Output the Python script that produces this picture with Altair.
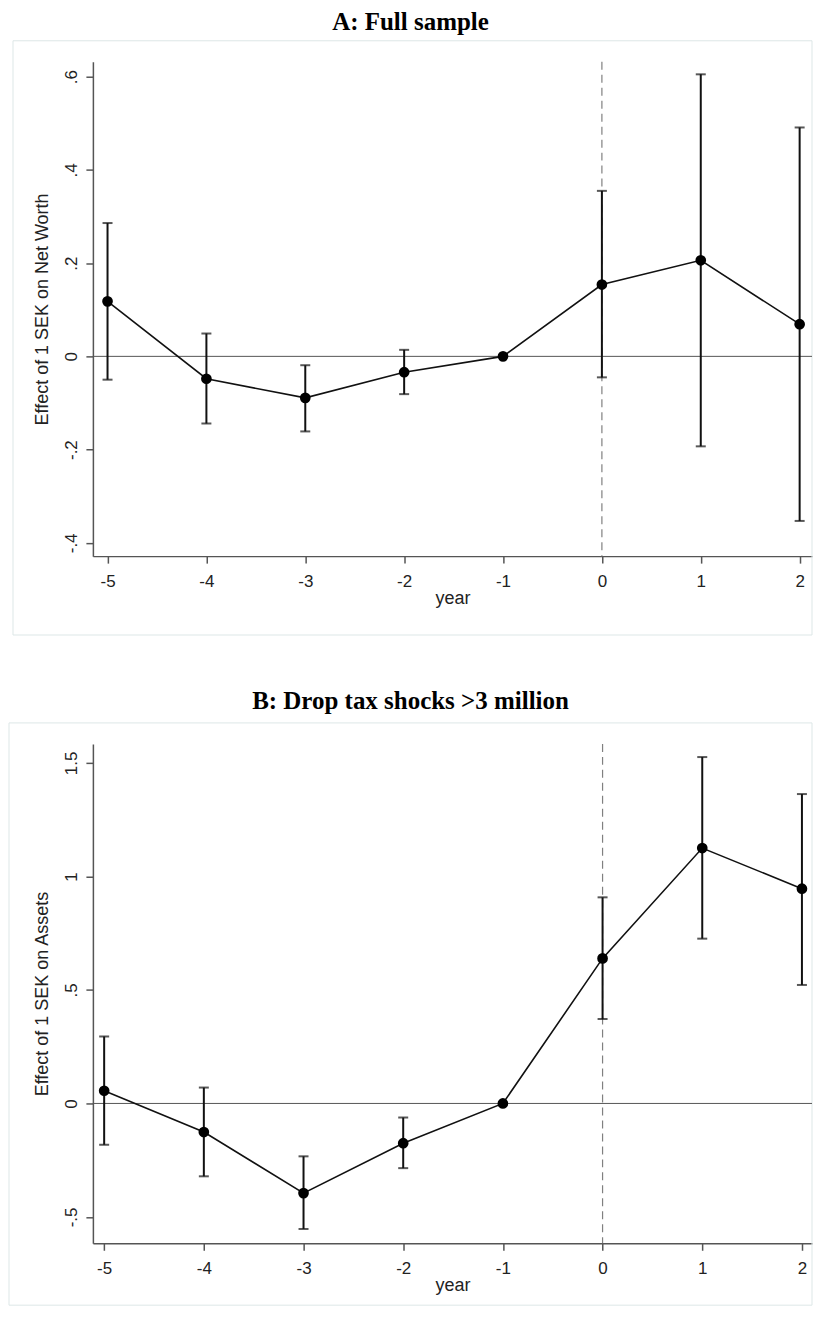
import altair as alt
import pandas as pd

years = [-5, -4, -3, -2, -1, 0, 1, 2]
x_labels = ["-5", "-4", "-3", "-2", "-1", "0", "1", "2"]

# Panel A: Full sample (effect on net worth)
a_coef = [0.118, -0.048, -0.089, -0.034, 0.0, 0.154, 0.206, 0.069]
a_hi = [0.286, 0.049, -0.019, 0.014, None, 0.355, 0.605, 0.491]
a_lo = [-0.050, -0.144, -0.161, -0.081, None, -0.045, -0.193, -0.353]
a_yticks = [-0.4, -0.2, 0, 0.2, 0.4, 0.6]
a_ylabels = ["-.4", "-.2", "0", ".2", ".4", ".6"]

# Panel B: Drop tax shocks >3 million (effect on assets)
b_coef = [0.056, -0.126, -0.395, -0.175, 0.0, 0.639, 1.125, 0.946]
b_hi = [0.295, 0.070, -0.233, -0.062, None, 0.908, 1.526, 1.363]
b_lo = [-0.182, -0.321, -0.553, -0.285, None, 0.372, 0.726, 0.522]
b_yticks = [-0.5, 0, 0.5, 1, 1.5]
b_ylabels = ["-.5", "0", ".5", "1", "1.5"]


def label_expr(values, labels):
    expr = "''"
    for v, l in zip(values, labels):
        expr = f"abs(datum.value - ({v})) < 1e-6 ? '{l}' : ({expr})"
    return expr


W = 720


def panel(title, ytitle, coef, hi, lo, xdom, ydom, yticks, ylabels, H,
          frame, title_y):
    df = pd.DataFrame({"year": years, "coef": coef, "hi": hi, "lo": lo})
    xaxis = alt.Axis(values=years, labelExpr=label_expr(years, x_labels),
                     title="year", labelPadding=10, titlePadding=0)
    yaxis = alt.Axis(values=yticks, labelExpr=label_expr(yticks, ylabels),
                     title=ytitle, labelAngle=270, labelAlign="center",
                     labelBaseline="bottom", labelPadding=5, titlePadding=11)
    xs = alt.Scale(domain=xdom, nice=False, zero=False)
    ys = alt.Scale(domain=ydom, nice=False, zero=False)

    def X(f):
        return alt.X(f, type="quantitative", scale=xs, axis=xaxis)

    def Y(f):
        return alt.Y(f, type="quantitative", scale=ys, axis=yaxis)

    one = pd.DataFrame({"year": [0], "coef": [0]})
    frame_l = alt.Chart(one).mark_rect(
        fill="white", fillOpacity=0, stroke="#dde7e7", strokeWidth=1
    ).encode(x=alt.value(frame[0]), x2=alt.value(frame[1]),
             y=alt.value(frame[2]), y2=alt.value(frame[3]))
    zero_l = alt.Chart(one).mark_rule(color="#555555", strokeWidth=1).encode(y=Y("coef"))
    dash_l = alt.Chart(one).mark_rule(color="#808080", strokeWidth=1.2,
                                      strokeDash=[8, 5]).encode(x=X("year"))
    base = alt.Chart(df)
    eb = base.transform_filter("isValid(datum.hi)")
    bars = eb.mark_rule(color="#111111", strokeWidth=2).encode(
        x=X("year"), y=Y("lo"), y2="hi")
    cap_lo = eb.mark_tick(color="#111111", orient="horizontal", size=10,
                          thickness=2).encode(x=X("year"), y=Y("lo"))
    cap_hi = eb.mark_tick(color="#111111", orient="horizontal", size=10,
                          thickness=2).encode(x=X("year"), y=Y("hi"))
    line = base.mark_line(color="#111111", strokeWidth=1.6).encode(
        x=X("year"), y=Y("coef"))
    pts = base.mark_point(filled=True, color="black", size=115,
                          opacity=1).encode(x=X("year"), y=Y("coef"))
    ttl = alt.Chart(one).mark_text(
        text=title, font="Liberation Serif", fontWeight="bold", fontSize=25,
        baseline="top", align="center", color="black"
    ).encode(x=alt.value(318), y=alt.value(title_y))
    return alt.layer(frame_l, zero_l, dash_l, bars, cap_lo, cap_hi, line,
                     pts, ttl).properties(width=W, height=H)


pa = panel("A: Full sample", "Effect of 1 SEK on Net Worth",
           a_coef, a_hi, a_lo, [-5.148, 2.125], [-0.4285, 0.632],
           a_yticks, a_ylabels, 495, (-80, 720, -21, 574), -52)
pb = panel("B: Drop tax shocks >3 million", "Effect of 1 SEK on Assets",
           b_coef, b_hi, b_lo, [-5.113, 2.101], [-0.616, 1.584],
           b_yticks, b_ylabels, 500, (-84, 720, -21, 562), -55)

chart = alt.vconcat(pa, pb, spacing=53).properties(
    padding={"top": 1, "left": 0, "right": 0, "bottom": 0}
).configure_view(strokeWidth=0).configure_axis(
    grid=False, domainColor="#555555", domainWidth=1.5, tickColor="#555555",
    tickWidth=1.5, tickSize=7, labelFont="Liberation Sans", labelFontSize=17,
    labelColor="#222222", titleFont="Liberation Sans", titleFontSize=18,
    titleFontWeight="normal", titleColor="#222222"
)

chart.save("out.html", embed_options={"renderer": "svg", "actions": False})
